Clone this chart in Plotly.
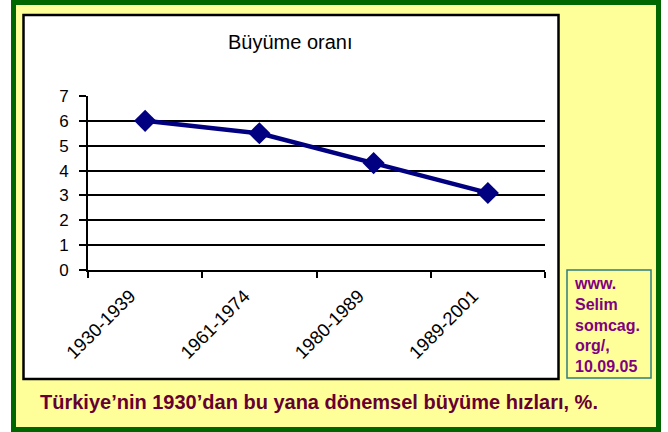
import plotly.graph_objects as go

periods = ["1930-1939", "1961-1974", "1980-1989", "1989-2001"]
growth = [6.0, 5.5, 4.3, 3.1]
y_ticks = [0, 1, 2, 3, 4, 5, 6, 7]
chart_title = "Büyüme oranı"
caption = "Türkiye’nin 1930’dan bu yana dönemsel büyüme hızları, %."
source_lines = ["www.", "Selim", "somcag.", "org/,", "10.09.05"]

W, H = 668, 432
L, R, T, B = 88, 545, 96, 270  # plot area in pixels


def px(x):
    return (x - L) / (R - L)


def py(y):
    return (B - y) / (B - T)


FONT = "Liberation Sans, Arial, sans-serif"

fig = go.Figure()
fig.add_trace(go.Scatter(
    x=periods, y=growth, mode="lines+markers",
    line=dict(color="#000080", width=4.5),
    marker=dict(symbol="diamond", size=17, color="#000080"),
    cliponaxis=False, showlegend=False,
))

shapes = [
    # outer green frame with yellow fill
    dict(type="rect", xref="paper", yref="paper", layer="below",
         x0=px(13.5), x1=px(658.5), y0=py(2.5), y1=py(429.5),
         fillcolor="#FFFF99", line=dict(color="#006600", width=5)),
    # white chart box
    dict(type="rect", xref="paper", yref="paper", layer="below",
         x0=px(23.5), x1=px(558.5), y0=py(15), y1=py(379),
         fillcolor="#FFFFFF", line=dict(color="#000000", width=2.5)),
    # source box
    dict(type="rect", xref="paper", yref="paper", layer="below",
         x0=px(567), x1=px(651), y0=py(270), y1=py(378),
         fillcolor="#FFFF99", line=dict(color="#2E7D7D", width=1.5)),
]

annotations = [
    dict(text=chart_title, xref="paper", yref="paper", x=px(290.5), y=py(42),
         xanchor="center", yanchor="middle", showarrow=False,
         font=dict(family=FONT, size=20, color="#000000")),
    dict(text="<br>".join(source_lines), xref="paper", yref="paper",
         x=px(572), y=py(325), xanchor="left", yanchor="middle", align="left",
         showarrow=False,
         font=dict(family=FONT, size=16, color="#800080", weight="bold")),
    dict(text=caption, xref="paper", yref="paper", x=px(38), y=py(402),
         xanchor="left", yanchor="middle", showarrow=False,
         font=dict(family=FONT, size=20, color="#660033", weight="bold")),
]

fig.update_layout(
    width=W, height=H,
    margin=dict(l=L, r=W - R, t=T, b=H - B, pad=0),
    paper_bgcolor="#FFFFFF", plot_bgcolor="rgba(0,0,0,0)",
    shapes=shapes, annotations=annotations,
    font=dict(family=FONT, size=17, color="#000000"),
    xaxis=dict(type="category", range=[-0.5, 3.5], tickson="boundaries",
               ticks="outside", ticklen=6, tickwidth=2, tickcolor="#000000",
               tickangle=-45, showgrid=False, showline=True,
               linecolor="#000000", linewidth=2, zeroline=False,
               ticklabelshift=-15, ticklabelstandoff=6,
               tickfont=dict(family=FONT, size=18.5, color="#000000")),
    yaxis=dict(range=[0, 7], tickvals=y_ticks, ticks="outside", ticklen=7,
               tickwidth=2, tickcolor="#000000", showgrid=True,
               gridcolor="#000000", gridwidth=1.5, showline=True,
               linecolor="#000000", linewidth=2, zeroline=False,
               ticklabelstandoff=7,
               tickfont=dict(family=FONT, size=17, color="#000000")),
)

fig.write_html("out.html", config={"displayModeBar": False},
               post_script="document.body.style.margin='0';document.body.style.padding='0';")
